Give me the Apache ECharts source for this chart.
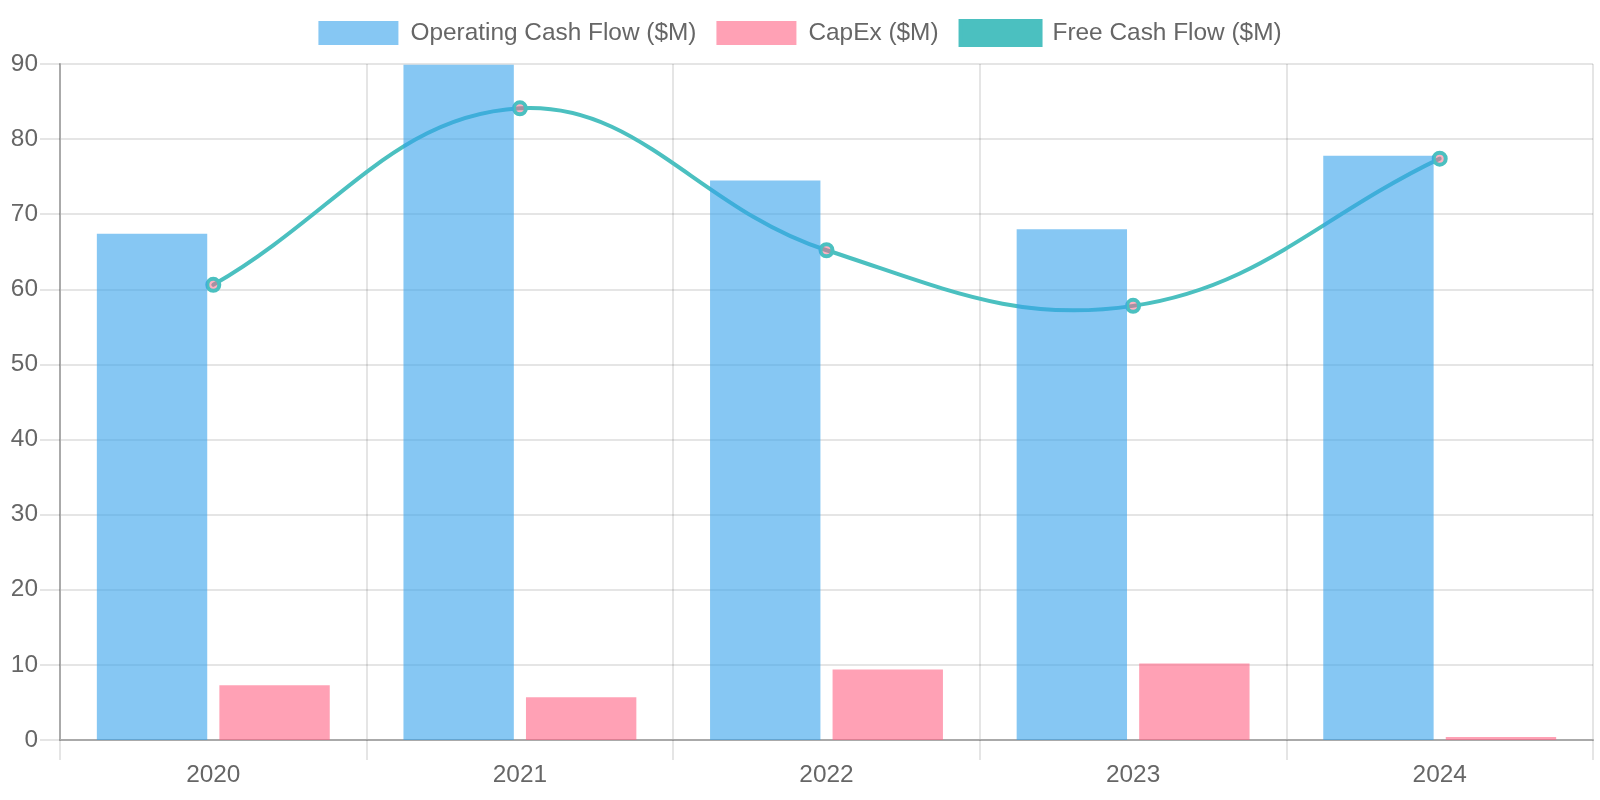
<!DOCTYPE html>
<html>
<head>
<meta charset="utf-8">
<script src="https://cdn.jsdelivr.net/npm/echarts@6/dist/echarts.min.js"></script>
<style>
html,body{margin:0;padding:0;background:#fff;}
#chart{width:1600px;height:800px;}
</style>
</head>
<body>
<div id="chart"></div>
<script>
const categories = ['2020', '2021', '2022', '2023', '2024'];
const operatingCashFlow = [67.4, 89.9, 74.5, 68.0, 77.8];
const capex = [7.3, 5.7, 9.4, 10.2, 0.4];
const freeCashFlow = [60.6, 84.1, 65.2, 57.8, 77.4];
const seriesNames = ['Operating Cash Flow ($M)', 'CapEx ($M)', 'Free Cash Flow ($M)'];

const FONT = '"Liberation Sans", Arial, Helvetica, sans-serif';
const FS = 24.4;
const TENSION = 0.4;

// Spline (same scheme as a cardinal spline with distance weighting), computed in pixel space
function splinePath(api) {
  const pts = freeCashFlow.map((v, i) => api.coord([i, v]));
  const n = pts.length;
  const cps = pts.map((cur, i) => {
    const prev = pts[i - 1] || cur;
    const next = pts[i + 1] || cur;
    const d01 = Math.hypot(cur[0] - prev[0], cur[1] - prev[1]);
    const d12 = Math.hypot(next[0] - cur[0], next[1] - cur[1]);
    let s01 = d01 / (d01 + d12); let s12 = d12 / (d01 + d12);
    if (!isFinite(s01)) s01 = 0; if (!isFinite(s12)) s12 = 0;
    const fa = TENSION * s01, fb = TENSION * s12;
    return {
      prev: [cur[0] - fa * (next[0] - prev[0]), cur[1] - fa * (next[1] - prev[1])],
      next: [cur[0] + fb * (next[0] - prev[0]), cur[1] + fb * (next[1] - prev[1])]
    };
  });
  let d = 'M' + pts[0][0] + ' ' + pts[0][1];
  for (let i = 1; i < n; i++) {
    d += ' C' + cps[i - 1].next[0] + ' ' + cps[i - 1].next[1] + ' ' +
      cps[i].prev[0] + ' ' + cps[i].prev[1] + ' ' + pts[i][0] + ' ' + pts[i][1];
  }
  return d;
}

const chart = echarts.init(document.getElementById('chart'));
chart.setOption({
  animation: false,
  legend: {
    top: 14,
    left: 'center',
    itemWidth: 80,
    itemHeight: 24,
    itemGap: 20,
    textStyle: { color: '#666', fontSize: FS, fontFamily: FONT, padding: [0, 0, 0, 7] },
    data: [
      { name: seriesNames[0], icon: 'rect', itemStyle: { color: 'rgba(54,162,235,0.6)' } },
      { name: seriesNames[1], icon: 'rect', itemStyle: { color: 'rgba(255,99,132,0.6)' } },
      { name: seriesNames[2], icon: 'rect', itemStyle: { color: '#4BC0C0', borderColor: '#4BC0C0', borderWidth: 4 } }
    ]
  },
  grid: { left: 60, right: 7, top: 64, bottom: 60, containLabel: false },
  xAxis: {
    type: 'category',
    data: categories,
    boundaryGap: true,
    axisLine: { show: true, lineStyle: { color: '#aaa', width: 2 } },
    axisTick: { show: true, length: 20, lineStyle: { color: 'rgba(0,0,0,0.1)', width: 2 } },
    axisLabel: { color: '#666', fontSize: FS, fontFamily: FONT, margin: 23 },
    splitLine: { show: true, lineStyle: { color: 'rgba(0,0,0,0.1)', width: 2 } }
  },
  yAxis: {
    type: 'value',
    min: 0,
    max: 90,
    interval: 10,
    axisLine: { show: true, lineStyle: { color: '#aaa', width: 2 } },
    axisTick: { show: true, length: 20, lineStyle: { color: 'rgba(0,0,0,0.1)', width: 2 } },
    axisLabel: { color: '#666', fontSize: FS, fontFamily: FONT, margin: 22 },
    splitLine: { show: true, lineStyle: { color: 'rgba(0,0,0,0.1)', width: 2 } }
  },
  series: [
    {
      name: seriesNames[0],
      type: 'bar',
      data: operatingCashFlow,
      barWidth: '36%',
      barGap: '11%',
      z: 3,
      itemStyle: { color: 'rgba(54,162,235,0.6)' }
    },
    {
      name: seriesNames[1],
      type: 'bar',
      data: capex,
      barWidth: '36%',
      barGap: '11%',
      z: 3,
      itemStyle: { color: 'rgba(255,99,132,0.6)' }
    },
    {
      name: seriesNames[2],
      type: 'custom',
      data: freeCashFlow,
      z: 2,
      silent: true,
      renderItem: function (params, api) {
        if (params.dataIndex !== 0) return null;
        return {
          type: 'path',
          shape: { pathData: splinePath(api) },
          style: { fill: 'none', stroke: '#4BC0C0', lineWidth: 4, lineJoin: 'round', lineCap: 'round' }
        };
      }
    },
    {
      name: seriesNames[2],
      type: 'line',
      data: freeCashFlow,
      z: 2,
      symbol: 'circle',
      symbolSize: 12,
      showSymbol: true,
      lineStyle: { width: 0, opacity: 0 },
      itemStyle: { color: 'rgba(255,99,132,0.5)', borderColor: '#4BC0C0', borderWidth: 4 }
    }
  ]
});
</script>
</body>
</html>
